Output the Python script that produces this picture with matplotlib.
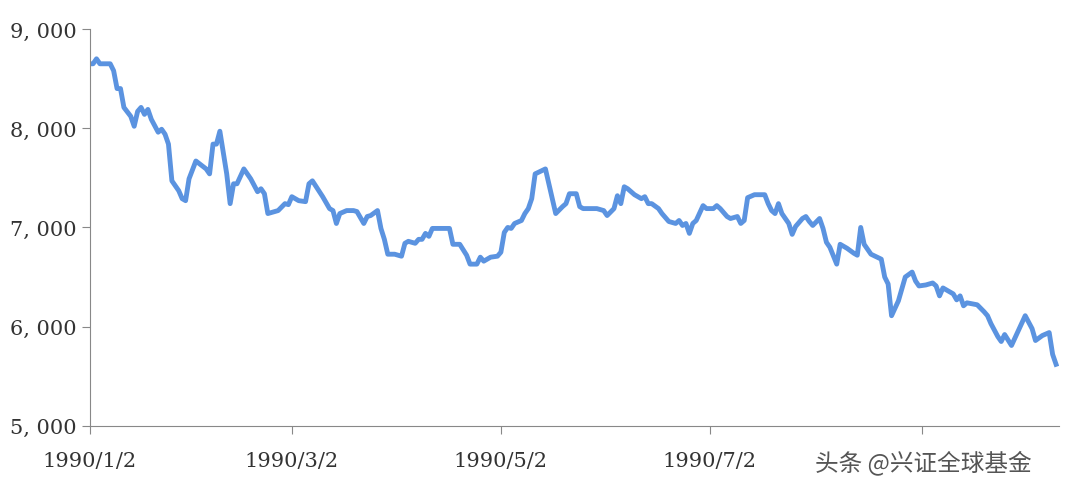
import matplotlib
matplotlib.use("Agg")
import matplotlib.pyplot as plt
from matplotlib.ticker import FuncFormatter
from datetime import datetime, timedelta

days = [0,1,2,3,6,7,8,9,10,12,13,14,15,16,17,18,20,21,22,23,24,26,27,28,29,31,34,35,36,37,38,40,41,42,43,45,47,49,50,51,52,54,55,57,58,59,60,61,63,64,65,68,70,71,72,73,75,77,78,80,81,82,84,85,86,87,89,91,92,93,95,96,97,98,99,100,101,105,106,108,110,111,113,114,115,117,119,120,121,122,123,124,126,127,128,129,130,133,134,135,136,138,139,140,142,143,144,148,150,151,153,154,155,156,157,159,161,162,163,164,166,167,169,171,172,173,174,175,176,177,179,180,182,183,184,186,187,189,190,191,192,194,197,198,199,200,201,202,204,205,206,208,209,210,211,213,214,215,216,218,219,221,223,224,225,226,228,231,232,233,234,236,238,240,241,242,244,246,247,248,249,251,252,253,254,255,256,259,261,262,263,265,266,267,269,271,273,275,276,278,280,281,282]
values = [8650,8650,8700,8650,8650,8580,8400,8400,8210,8120,8020,8170,8210,8140,8190,8090,7960,7990,7940,7840,7470,7370,7290,7270,7490,7670,7590,7540,7840,7840,7970,7540,7240,7440,7440,7590,7490,7360,7390,7340,7140,7160,7170,7240,7230,7310,7290,7270,7260,7440,7470,7310,7190,7170,7040,7140,7170,7170,7160,7040,7110,7120,7170,6990,6880,6730,6730,6710,6840,6860,6840,6880,6880,6940,6910,6990,6990,6990,6830,6830,6720,6630,6630,6700,6660,6700,6710,6750,6950,7000,6990,7040,7070,7140,7190,7290,7540,7590,7440,7290,7140,7210,7240,7340,7340,7210,7190,7190,7170,7120,7190,7320,7240,7410,7390,7330,7290,7310,7240,7240,7190,7140,7060,7040,7070,7020,7040,6940,7040,7070,7220,7190,7190,7220,7190,7110,7090,7110,7040,7070,7300,7330,7330,7240,7170,7140,7240,7140,7040,6930,7010,7090,7110,7060,7020,7090,6990,6850,6800,6630,6830,6790,6740,6720,7000,6830,6730,6680,6500,6430,6110,6260,6500,6550,6460,6410,6420,6440,6410,6310,6390,6350,6330,6270,6310,6210,6240,6220,6150,6110,6030,5900,5850,5920,5810,5960,6110,5980,5860,5910,5940,5720,5620]
tick_labels = ["1990/1/2", "1990/3/2", "1990/5/2", "1990/7/2", "1990/9/2"]
y_ticks = [5000, 6000, 7000, 8000, 9000]

base = datetime(1990, 1, 2)
dates = [base + timedelta(days=d) for d in days]
tick_dates = [datetime.strptime(t, "%Y/%m/%d") for t in tick_labels]

fig = plt.figure(figsize=(10.8, 4.85), dpi=100)
ax = fig.add_axes([0.083, 0.12, 0.898, 0.818])
ax.plot(dates, values, color="#5B93E0", lw=3.5, solid_joinstyle="round")
ax.set_xlim(base, base + timedelta(days=283))
ax.set_ylim(5000, 9000)
ax.set_yticks(y_ticks)
ax.yaxis.set_major_formatter(FuncFormatter(lambda v, p: f"{int(v):,}".replace(",", ", ")))
ax.set_xticks(tick_dates)
ax.set_xticklabels(tick_labels[:4] + [""])
for s in ["top", "right"]:
    ax.spines[s].set_visible(False)
for s in ["left", "bottom"]:
    ax.spines[s].set_color("#888888")
ax.tick_params(axis="both", colors="#888888", labelcolor="#333333", labelsize=15, length=6)
ax.tick_params(axis="x", pad=12)
for lab in ax.get_xticklabels() + ax.get_yticklabels():
    lab.set_family("DejaVu Serif")
fig.text(0.755, 0.03, "头条 @兴证全球基金", fontsize=17, color="#555555",
         family=["Noto Sans CJK SC", "DejaVu Sans"])
fig.savefig("out.png")
